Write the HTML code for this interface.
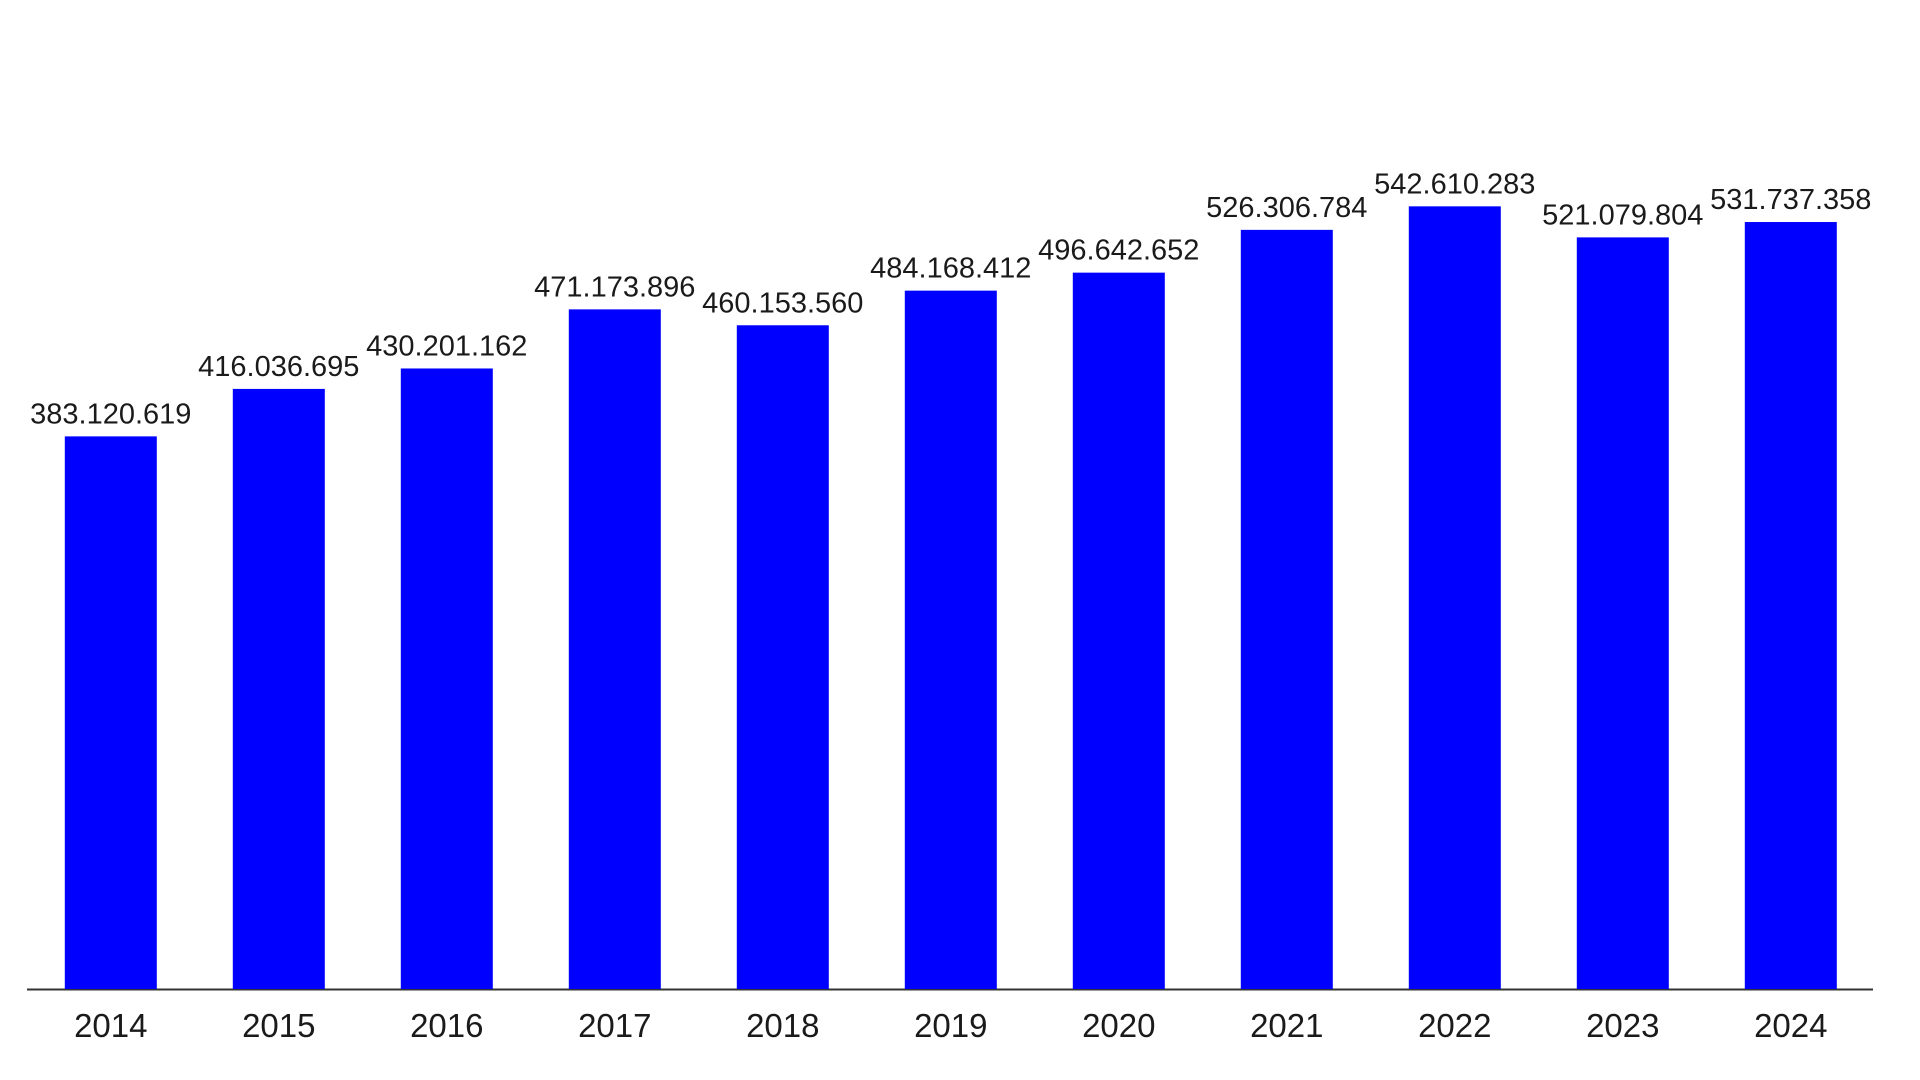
<!DOCTYPE html>
<html><head><meta charset="utf-8"><style>
html,body{margin:0;padding:0;background:#fff;}
svg{display:block;font-family:"Liberation Sans",sans-serif;}
</style></head><body>
<svg id="chart" width="1920" height="1080" viewBox="0 0 1920 1080" xmlns="http://www.w3.org/2000/svg">
<line x1="27" y1="989.5" x2="1873" y2="989.5" stroke="#333" stroke-width="2"/>
<g id="bars"></g>
</svg>
<script>
const categories = ["2014","2015","2016","2017","2018","2019","2020","2021","2022","2023","2024"];
const values = [383.120619,416.036695,430.201162,471.173896,460.153560,484.168412,496.642652,526.306784,542.610283,521.079804,531.737358];
const valueLabels = ["383.120.619","416.036.695","430.201.162","471.173.896","460.153.560","484.168.412","496.642.652","526.306.784","542.610.283","521.079.804","531.737.358"];
const NS="http://www.w3.org/2000/svg";
const baseY=989, pxPerUnit=1.4424, firstCenter=110.8, step=168, barW=92;
function xScale(i){return firstCenter+i*step;}
function yScale(v){return baseY-v*pxPerUnit;}
const g=document.getElementById('bars');
categories.forEach((c,i)=>{
  const cx=xScale(i), y=yScale(values[i]);
  const r=document.createElementNS(NS,'rect');
  
  
  r.setAttribute('x',cx-barW/2);r.setAttribute('y',y);
  r.setAttribute('width',barW);r.setAttribute('height',baseY-y);
  r.setAttribute('fill','#0000ff');
  g.appendChild(r);
  const t=document.createElementNS(NS,'text');
  
  
  t.setAttribute('x',cx);t.setAttribute('y',y-13);
  t.setAttribute('text-anchor','middle');t.setAttribute('font-size','29');t.setAttribute('fill','#1a1a1a');
  t.textContent=valueLabels[i];
  g.appendChild(t);
  const l=document.createElementNS(NS,'text');
  
  
  l.setAttribute('x',cx);l.setAttribute('y',1037);
  l.setAttribute('text-anchor','middle');l.setAttribute('font-size','33');l.setAttribute('fill','#1a1a1a');
  l.textContent=c;
  g.appendChild(l);
});
</script>
</body></html>
